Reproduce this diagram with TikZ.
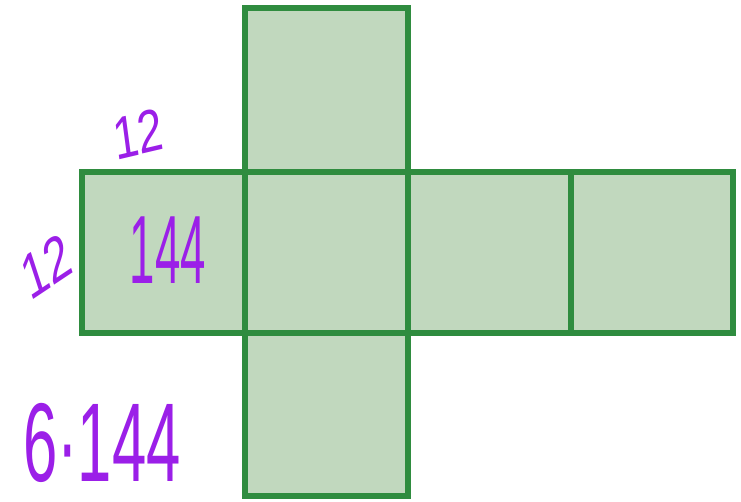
\documentclass[tikz,border=0pt]{standalone}
\usepackage{fontspec}
\setmainfont{Liberation Sans}
\definecolor{facefill}{HTML}{C1D8BE}
\definecolor{edgegreen}{HTML}{2F8C3F}
\definecolor{inkpurple}{HTML}{9B1FE8}
\tikzset{
  face/.style={draw=edgegreen, fill=facefill, line width=6pt, line join=miter},
  ink/.style={text=inkpurple, inner sep=0pt, anchor=center}
}
\begin{document}
\begin{tikzpicture}[x=1pt,y=-1pt]
\useasboundingbox (0,0) rectangle (741,501);
\fill[white] (0,0) rectangle (741,501);
% faces
\path[face] (245,8) rectangle (408,172);
\path[face] (82,172) rectangle (245,333);
\path[face] (245,172) rectangle (408,333);
\path[face] (408,172) rectangle (571,333);
\path[face] (571,172) rectangle (733,333);
\path[face] (245,333) rectangle (408,496);
% labels
\node[ink, font=\fontsize{60}{60}\selectfont, xscale=0.75, rotate=10] (topside) at (138,134) {12};
\node[ink, font=\fontsize{64}{64}\selectfont, xscale=0.7, rotate=25] (leftside) at (46,266) {12};
\node[ink, font=\fontsize{97}{97}\selectfont, xscale=0.47] (area) at (168,250) {144};
\node[ink, font=\fontsize{112}{112}\selectfont, xscale=0.55] (total) at (102,443) {6·144};
\end{tikzpicture}
\end{document}
